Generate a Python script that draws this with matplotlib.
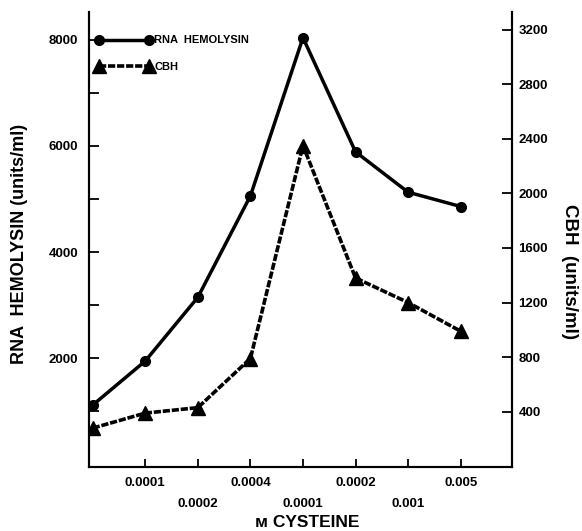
import matplotlib.pyplot as plt

plt.rcParams['font.family'] = ['Liberation Sans', 'DejaVu Sans']
plt.rcParams['font.weight'] = 'bold'

# концентрації цистеїну (мітки осі X) і значення серій
cysteine = ['0.0001', '0.0002', '0.0004', '0.0001', '0.0002', '0.001', '0.005']
positions = [0, 1, 2, 3, 4, 5, 6, 7]
rna_hemolysin = [1120, 1950, 3150, 5060, 8040, 5890, 5130, 4860]
cbh = [280, 390, 430, 790, 2350, 1380, 1200, 990]

left_ticks = [2000, 4000, 6000, 8000]
left_minor = [1000, 3000, 5000, 7000]
right_ticks = [400, 800, 1200, 1600, 2000, 2400, 2800, 3200]

fig = plt.figure(figsize=(5.82, 5.31), dpi=100)
ax = fig.add_axes([0.153, 0.1205, 0.727, 0.8565])
ax2 = ax.twinx()

l1, = ax.plot(positions, rna_hemolysin, color='black', lw=2.5, marker='o',
              markersize=7, label='RNA  HEMOLYSIN')
l2, = ax2.plot(positions, cbh, color='black', lw=2.6, linestyle=(0, (2.0, 0.5)),
               marker='^', markersize=10, label='CBH')

ax.set_xlim(-0.07, 7.98)
ax.set_ylim(-47, 8520)
ax2.set_ylim(-5, 3327)

for a in (ax, ax2):
    a.spines['top'].set_visible(False)
    for s in a.spines.values():
        s.set_linewidth(1.5)

# X: верхній ряд міток на основних поділках, нижній — на допоміжних
ax.set_xticks(positions[1::2])
ax.set_xticklabels(cysteine[0::2])
ax.set_xticks(positions[2::2], minor=True)
ax.set_xticklabels(cysteine[1::2], minor=True)
ax.tick_params(axis='x', which='major', direction='in', length=6, width=1.3,
               pad=7, labelsize=9.5)
ax.tick_params(axis='x', which='minor', direction='in', length=6, width=1.3,
               pad=22, labelsize=9.5)

ax.set_yticks(left_ticks)
ax.set_yticks(left_minor, minor=True)
ax.tick_params(axis='y', which='both', direction='in', length=7, width=1.3,
               pad=8, labelsize=9.5)
ax.yaxis.set_minor_formatter(plt.NullFormatter())

ax2.set_yticks(right_ticks)
ax2.tick_params(axis='y', direction='in', length=7, width=1.3, pad=4.5,
                labelsize=9.5)

ax.set_ylabel('RNA  HEMOLYSIN (units/ml)', fontsize=13, fontweight='bold')
ax.yaxis.set_label_coords(-0.144, 0.49)
ax2.set_ylabel('CBH  (units/ml)', fontsize=13.5, fontweight='bold', rotation=270,
               va='center')
ax2.yaxis.set_label_coords(1.135, 0.43)
ax.set_xlabel('ᴍ CYSTEINE', fontsize=12.5, fontweight='bold')
ax.xaxis.set_label_coords(0.515, -0.106)

ax.legend(handles=[l1, l2], loc='upper left', bbox_to_anchor=(0.016, 0.949),
          frameon=False, numpoints=2, handlelength=5.1, handletextpad=0.15,
          labelspacing=1.5, borderpad=0, borderaxespad=0, fontsize=8)

fig.savefig('out.png', dpi=100)
